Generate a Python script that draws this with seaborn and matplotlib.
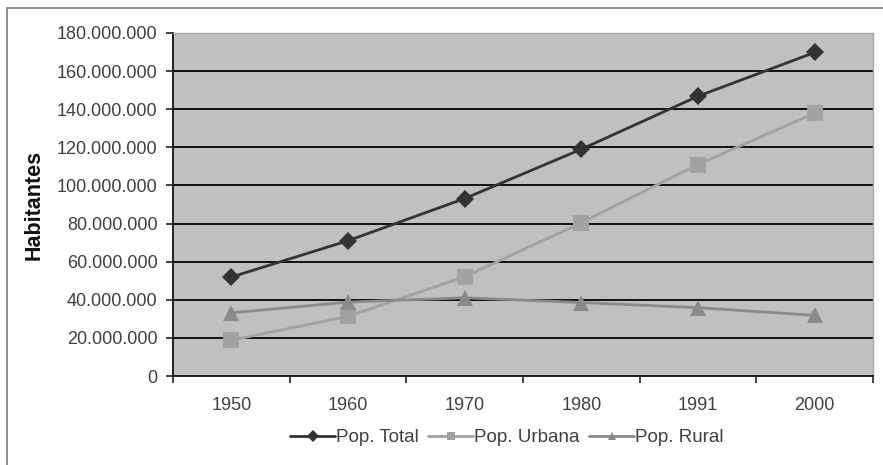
import matplotlib
matplotlib.use("Agg")
import matplotlib.pyplot as plt
from matplotlib.patches import Rectangle
from matplotlib.ticker import FuncFormatter, FixedLocator
import seaborn as sns
import pandas as pd

# Brazilian population by census year
anos = ["1950", "1960", "1970", "1980", "1991", "2000"]
pop_total = [51944397, 70992343, 93134846, 119011052, 146825475, 169799170]
pop_urbana = [18782891, 31303034, 52084984, 80436409, 110990990, 137953959]
pop_rural = [33161506, 38767423, 41054053, 38566297, 35834485, 31845211]
series_names = ["Pop. Total", "Pop. Urbana", "Pop. Rural"]
y_ticks = list(range(0, 180000001, 20000000))

df = pd.DataFrame({"Ano": anos, "Pop. Total": pop_total,
                   "Pop. Urbana": pop_urbana, "Pop. Rural": pop_rural})
long = df.melt(id_vars="Ano", var_name="Serie", value_name="Habitantes")

sns.set_theme(style="white")
plt.rcParams["font.family"] = ["Liberation Sans", "DejaVu Sans"]

fig = plt.figure(figsize=(8.83, 4.65), dpi=100)
ax = fig.add_axes([173 / 883, 1 - 376 / 465, 700 / 883, 343 / 465])

# outer chart frame
fig.patches.append(Rectangle((7 / 883, -0.1), 1.2, 1 - 8 / 465 + 0.1,
                             transform=fig.transFigure, fill=False,
                             edgecolor="#7a7a7a", linewidth=1.2))

ax.set_facecolor("#c0c0c0")
styles = {
    "Pop. Total": dict(color="#333333", marker="D", markersize=9),
    "Pop. Urbana": dict(color="#a2a2a2", marker="s", markersize=11),
    "Pop. Rural": dict(color="#8a8a8a", marker="^", markersize=11),
}
for name in series_names:
    sub = long[long["Serie"] == name]
    st = styles[name]
    sns.lineplot(data=sub, x="Ano", y="Habitantes", ax=ax, label=name,
                 color=st["color"], marker=st["marker"],
                 markersize=st["markersize"], markeredgewidth=0,
                 linewidth=2.0, sort=False)

ax.set_xlim(-0.5, len(anos) - 0.5)
ax.set_ylim(0, 180000000)
ax.set_yticks(y_ticks)
ax.yaxis.set_major_formatter(
    FuncFormatter(lambda v, p: f"{int(v):,}".replace(",", ".")))
ax.grid(axis="y", color="#111111", linewidth=1.4)
ax.set_axisbelow(True)

ax.set_xticks(range(len(anos)))
ax.set_xticklabels(anos)
ax.xaxis.set_minor_locator(FixedLocator([i + 0.5 for i in range(-1, len(anos))]))
ax.tick_params(axis="x", which="major", length=0, pad=15,
               labelsize=13, labelcolor="#404040")
ax.tick_params(axis="x", which="minor", length=5, width=1.2,
               color="#222222", direction="out", bottom=True)
ax.tick_params(axis="y", which="major", length=5, width=1.2,
               color="#222222", direction="out", left=True, pad=6,
               labelsize=13, labelcolor="#404040")

for side in ("left", "bottom"):
    ax.spines[side].set_color("#222222")
    ax.spines[side].set_linewidth(1.4)
for side in ("top", "right"):
    ax.spines[side].set_color("#a8a8a8")
    ax.spines[side].set_linewidth(1.0)

ax.set_xlabel("")
ax.set_ylabel("Habitantes", fontsize=15.5, fontweight="bold",
              color="#111111")
ax.yaxis.set_label_coords(-0.184, 0.5)

leg = ax.legend(loc="center", bbox_to_anchor=(0.477, -0.18),
                ncol=3, frameon=False, fontsize=13.5, handlelength=2.4,
                handletextpad=0.05, columnspacing=0.5, labelcolor="#404040")
for h in leg.legend_handles:
    h.set_markersize(6)

fig.savefig("out.png", dpi=100, facecolor="white")
